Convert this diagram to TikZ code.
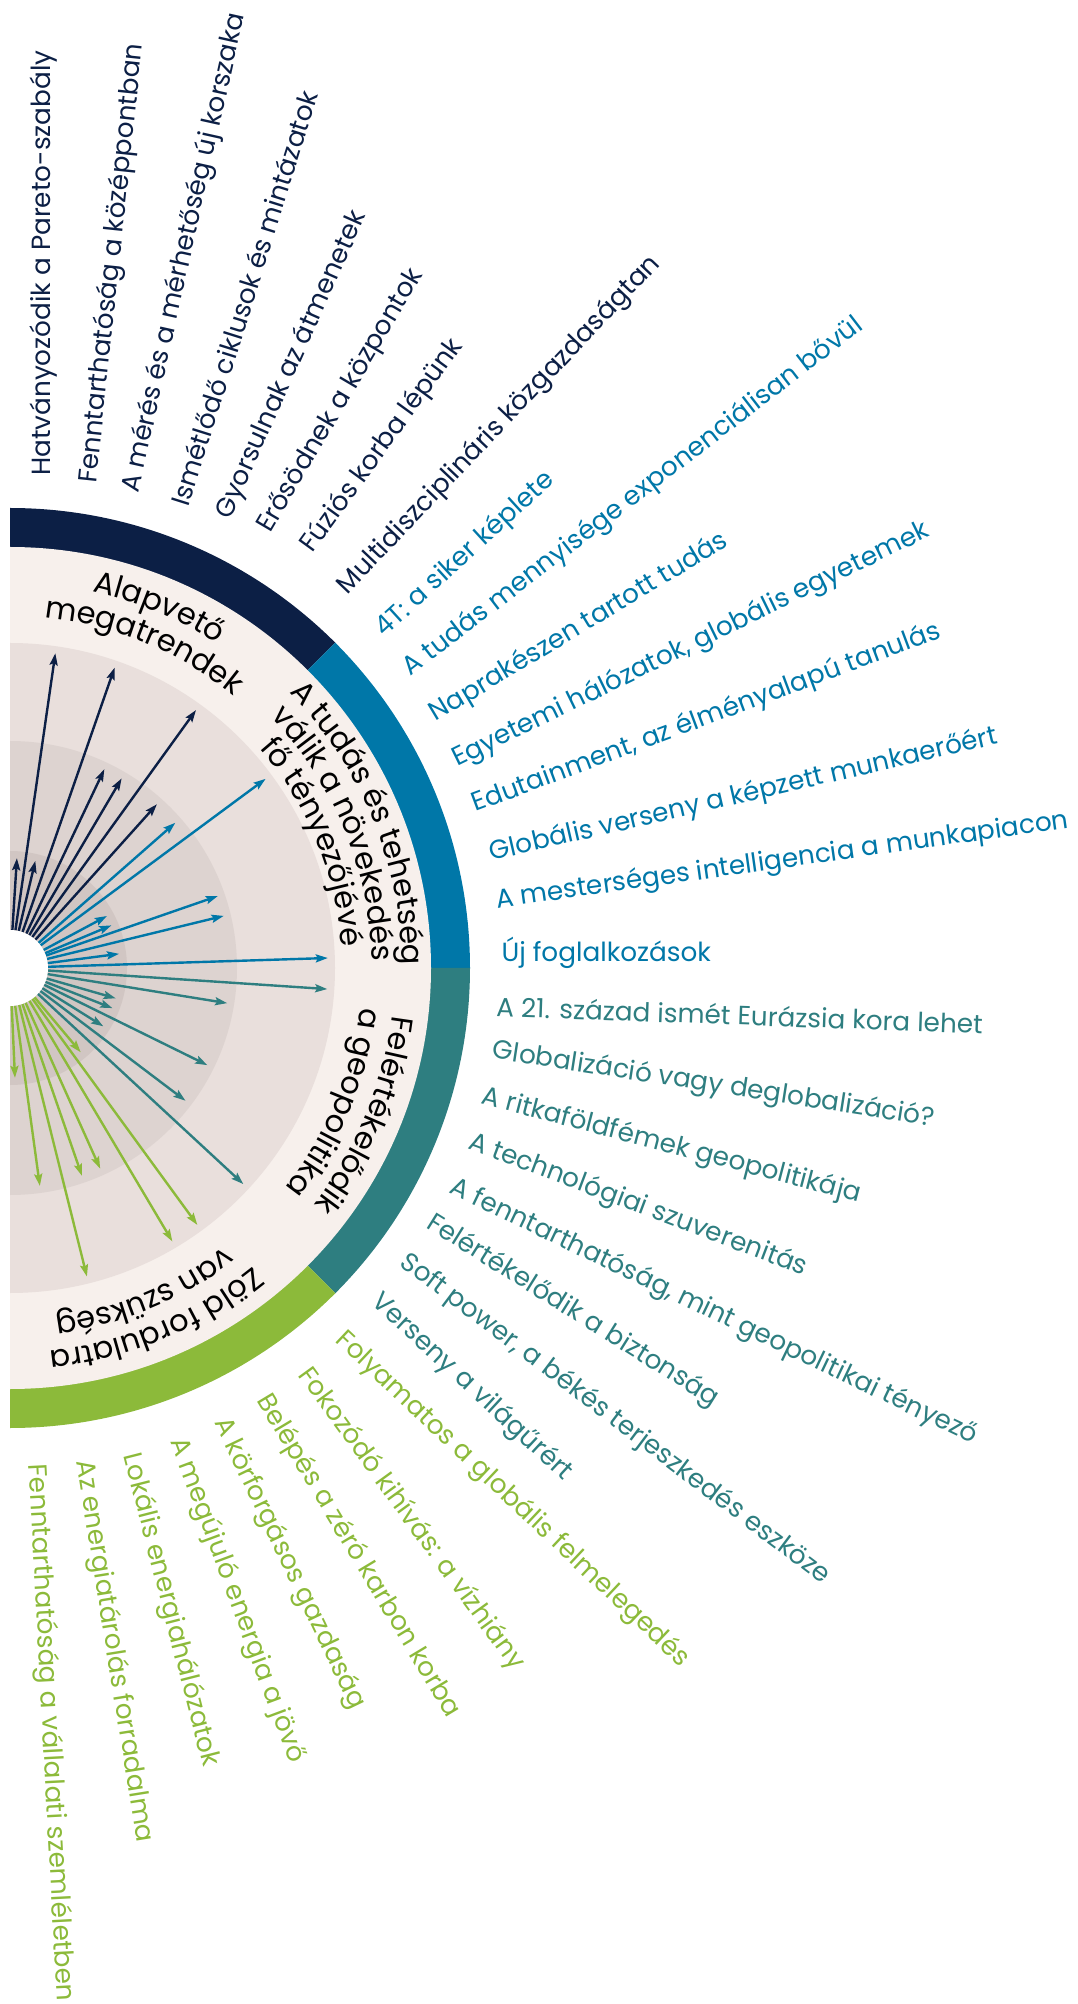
\documentclass[tikz,border=0pt]{standalone}
\usepackage{fontspec}
\setmainfont{Poppins}
\usetikzlibrary{arrows.meta,decorations.text}

\definecolor{trendnavy}{HTML}{0C1F45}
\definecolor{trendblue}{HTML}{0077A8}
\definecolor{trendteal}{HTML}{2E7E80}
\definecolor{trendgreen}{HTML}{8CBA3A}
\definecolor{bandcream}{HTML}{F7F0EC}
\definecolor{diskone}{HTML}{E9DFDC}
\definecolor{disktwo}{HTML}{DDD3D0}
\definecolor{diskthree}{HTML}{D1C6C3}

\newcommand\trendcat{\fontsize{30.5}{35}\selectfont}

\tikzset{
  lbl/.style={anchor=west, inner sep=0pt, font=\fontsize{26.3}{31}\selectfont},
  navylbl/.style={lbl, text=trendnavy},
  bluelbl/.style={lbl, text=trendblue},
  teallbl/.style={lbl, text=trendteal},
  greenlbl/.style={lbl, text=trendgreen},
  arr/.style={line width=2.4pt, -{Stealth[length=12pt,width=8pt,inset=2pt]}},
  catline/.style={decorate, decoration={text along path, text align=center, text={#1}}}
}

\begin{document}
\begin{tikzpicture}[x=1pt,y=1pt]
\useasboundingbox (-10,-1036) rectangle (1068,968);
% outer ring, four sectors
\fill[trendnavy] (0,0) -- (90:460) arc[start angle=90, end angle=45, radius=460] -- cycle;
\fill[trendblue] (0,0) -- (45:460) arc[start angle=45, end angle=0, radius=460] -- cycle;
\fill[trendteal] (0,0) -- (0:460) arc[start angle=0, end angle=-45, radius=460] -- cycle;
\fill[trendgreen] (0,0) -- (-45:460) arc[start angle=-45, end angle=-90, radius=460] -- cycle;
% inner bands
\fill[bandcream] (90:421) arc[start angle=90, end angle=-90, radius=421] -- cycle;
\fill[diskone] (90:325) arc[start angle=90, end angle=-90, radius=325] -- cycle;
\fill[disktwo] (90:227) arc[start angle=90, end angle=-90, radius=227] -- cycle;
\fill[diskthree] (90:117) arc[start angle=90, end angle=-90, radius=117] -- cycle;
\node[circle, fill=white, minimum size=76pt, inner sep=0pt] (hub) at (0,0) {};

% arrows
\coordinate (nv1) at (86.4:110); \draw[arr, trendnavy] (hub) -- (nv1);
\coordinate (nv2) at (76.7:110); \draw[arr, trendnavy] (hub) -- (nv2);
\coordinate (nv3) at (81.8:318); \draw[arr, trendnavy] (hub) -- (nv3);
\coordinate (nv4) at (70.8:318); \draw[arr, trendnavy] (hub) -- (nv4);
\coordinate (nv5) at (64.6:220); \draw[arr, trendnavy] (hub) -- (nv5);
\coordinate (nv6) at (59.5:220); \draw[arr, trendnavy] (hub) -- (nv6);
\coordinate (nv7) at (54.2:318); \draw[arr, trendnavy] (hub) -- (nv7);
\coordinate (nv8) at (48.1:220); \draw[arr, trendnavy] (hub) -- (nv8);
\coordinate (bl1) at (36.5:318); \draw[arr, trendblue] (hub) -- (bl1);
\coordinate (bl2) at (41.3:220); \draw[arr, trendblue] (hub) -- (bl2);
\coordinate (bl3) at (19.1:220); \draw[arr, trendblue] (hub) -- (bl3);
\coordinate (bl4) at (13.7:220); \draw[arr, trendblue] (hub) -- (bl4);
\coordinate (bl5) at (28.2:110); \draw[arr, trendblue] (hub) -- (bl5);
\coordinate (bl6) at (22.8:110); \draw[arr, trendblue] (hub) -- (bl6);
\coordinate (bl7) at (7.4:110); \draw[arr, trendblue] (hub) -- (bl7);
\coordinate (bl8) at (1.8:318); \draw[arr, trendblue] (hub) -- (bl8);
\coordinate (tl1) at (-3.8:318); \draw[arr, trendteal] (hub) -- (tl1);
\coordinate (tl2) at (-9.2:220); \draw[arr, trendteal] (hub) -- (tl2);
\coordinate (tl3) at (-16:110); \draw[arr, trendteal] (hub) -- (tl3);
\coordinate (tl4) at (-21.4:110); \draw[arr, trendteal] (hub) -- (tl4);
\coordinate (tl5) at (-26.2:220); \draw[arr, trendteal] (hub) -- (tl5);
\coordinate (tl6) at (-32:110); \draw[arr, trendteal] (hub) -- (tl6);
\coordinate (tl7) at (-37.1:220); \draw[arr, trendteal] (hub) -- (tl7);
\coordinate (tl8) at (-42.8:318); \draw[arr, trendteal] (hub) -- (tl8);
\coordinate (gr1) at (-87.4:110); \draw[arr, trendgreen] (hub) -- (gr1);
\coordinate (gr2) at (-82.2:220); \draw[arr, trendgreen] (hub) -- (gr2);
\coordinate (gr3) at (-76:318); \draw[arr, trendgreen] (hub) -- (gr3);
\coordinate (gr4) at (-70.9:220); \draw[arr, trendgreen] (hub) -- (gr4);
\coordinate (gr5) at (-65.8:220); \draw[arr, trendgreen] (hub) -- (gr5);
\coordinate (gr6) at (-50:110); \draw[arr, trendgreen] (hub) -- (gr6);
\coordinate (gr7) at (-59.3:318); \draw[arr, trendgreen] (hub) -- (gr7);
\coordinate (gr8) at (-53.9:318); \draw[arr, trendgreen] (hub) -- (gr8);

% sector titles
\path[catline={|\trendcat|Alapvető}] (112.5:385) arc[start angle=112.5, end angle=22.5, radius=385];
\path[catline={|\trendcat|megatrendek}] (112.5:352) arc[start angle=112.5, end angle=22.5, radius=352];
\path[catline={|\trendcat|A tudás és tehetség}] (67.5:392) arc[start angle=67.5, end angle=-22.5, radius=392];
\path[catline={|\trendcat|válik a növekedés}] (67.5:362) arc[start angle=67.5, end angle=-22.5, radius=362];
\path[catline={|\trendcat|fő tényezőjévé}] (67.5:332) arc[start angle=67.5, end angle=-22.5, radius=332];
\path[catline={|\trendcat|Felértékelődik}] (22.5:385) arc[start angle=22.5, end angle=-67.5, radius=385];
\path[catline={|\trendcat|a geopolitika}] (22.5:352) arc[start angle=22.5, end angle=-67.5, radius=352];
\path[catline={|\trendcat|Zöld fordulatra}] (-22.5:385) arc[start angle=-22.5, end angle=-112.5, radius=385];
\path[catline={|\trendcat|van szükség}] (-22.5:352) arc[start angle=-22.5, end angle=-112.5, radius=352];

% navy labels
\node[navylbl, rotate=90] (n1) at (34,492) {Hatványozódik a Pareto-szabály};
\node[navylbl, rotate=84] (n2) at (79.5,484.6) {Fenntarthatóság a középpontban};
\node[navylbl, rotate=77.5] (n3) at (121.7,475.7) {A mérés és a mérhetőség új korszaka};
\node[navylbl, rotate=72.5] (n4) at (169,463) {Ismétlődő ciklusok és mintázatok};
\node[navylbl, rotate=66] (n5) at (213.8,450.1) {Gyorsulnak az átmenetek};
\node[navylbl, rotate=59.5] (n6) at (254.7,437.3) {Erősödnek a központok};
\node[navylbl, rotate=54] (n7) at (296.9,418.1) {Fúziós korba lépünk};
\node[navylbl, rotate=46.5] (n8) at (332.7,377.2) {Multidiszciplináris közgazdaságtan};
% blue labels
\node[bluelbl, rotate=42.4] (b1) at (369.8,335) {4T: a siker képlete};
\node[bluelbl, rotate=37.5] (b2) at (396.7,296.6) {A tudás mennyisége exponenciálisan bővül};
\node[bluelbl, rotate=31] (b3) at (422.2,251.9) {Naprakészen tartott tudás};
\node[bluelbl, rotate=26] (b4) at (444,207.1) {Egyetemi hálózatok, globális egyetemek};
\node[bluelbl, rotate=20.5] (b5) at (463.2,162.4) {Edutainment, az élményalapú tanulás};
\node[bluelbl, rotate=13] (b6) at (479.8,113.8) {Globális verseny a képzett munkaerőért};
\node[bluelbl, rotate=8] (b7) at (486.2,66.4) {A mesterséges intelligencia a munkapiacon};
\node[bluelbl] (b8) at (491.3,15.3) {Új foglalkozások};
% teal labels
\node[teallbl, rotate=-2] (t1) at (486.2,-38.4) {A 21. század ismét Eurázsia kora lehet};
\node[teallbl, rotate=-8.8] (t2) at (482.3,-83.2) {Globalizáció vagy deglobalizáció?};
\node[teallbl, rotate=-14.6] (t3) at (472.1,-129.2) {A ritkaföldfémek geopolitikája};
\node[teallbl, rotate=-20.7] (t4) at (459.3,-174) {A technológiai szuverenitás};
\node[teallbl, rotate=-25.6] (t5) at (441.4,-218.7) {A fenntarthatóság, mint geopolitikai tényező};
\node[teallbl, rotate=-32] (t6) at (418.4,-253.3) {Felértékelődik a biztonság};
\node[teallbl, rotate=-37] (t7) at (392.8,-291.6) {Soft power, a békés terjeszkedés eszköze};
\node[teallbl, rotate=-42.7] (t8) at (364.7,-330) {Verseny a világűrért};
% green labels
\node[greenlbl, rotate=-43.3] (g1) at (328.9,-368.3) {Folyamatos a globális felmelegedés};
\node[greenlbl, rotate=-54] (g2) at (293.1,-402.9) {Fokozódó kihívás: a vízhiány};
\node[greenlbl, rotate=-59] (g3) at (252.2,-428.5) {Belépés a zéró karbon korba};
\node[greenlbl, rotate=-64.4] (g4) at (210,-451.5) {A körforgásos gazdaság};
\node[greenlbl, rotate=-69.6] (g5) at (166.5,-470.7) {A megújuló energia a jövő};
\node[greenlbl, rotate=-75.7] (g6) at (120.4,-486) {Lokális energiahálózatok};
\node[greenlbl, rotate=-80.9] (g7) at (73.1,-492.4) {Az energiatárolás forradalma};
\node[greenlbl, rotate=-87] (g8) at (25.8,-496.2) {Fenntarthatóság a vállalati szemléletben};
\end{tikzpicture}
\end{document}
